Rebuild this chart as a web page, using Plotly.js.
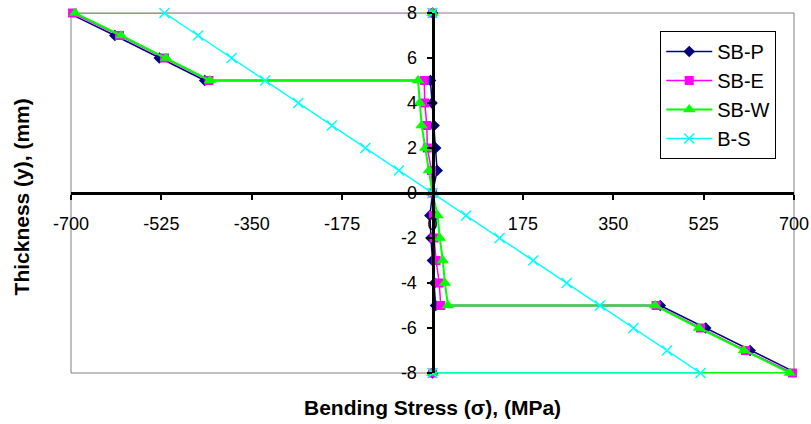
<!DOCTYPE html>
<html>
<head>
<meta charset="utf-8">
<script src="https://cdn.plot.ly/plotly-3.0.1.min.js"></script>
<style>html,body{margin:0;padding:0;background:#fff;}#chart{width:811px;height:424px;}</style>
</head>
<body>
<div id="chart"></div>
<script>
// Thickness positions (mm) for the sandwich-beam series
var ySB = [8, 8, 7, 6, 5, 5, 4, 3, 2, 1, 0, -1, -2, -3, -4, -5, -5, -6, -7, -8, -8];
// Bending stress (MPa)
var sbP = [0, -705, -615, -529, -441, -4, -1, 3, 6, 9, 0, -5, -3, 0, 4, 6, 441, 529, 615, 705, 0];
var sbE = [0, -697, -606, -519, -433, -16, -15, -11, -10, -2, 0, 2, 3, 7, 13, 16, 433, 519, 606, 697, 0];
var sbW = [0, -692, -603, -516, -431, -28, -25, -21, -14, -7, 0, 10, 14, 20, 24, 30, 431, 516, 603, 692, 0];
// Homogeneous beam
var yBS = [8, 8, 7, 6, 5, 4, 3, 2, 1, 0, -1, -2, -3, -4, -5, -6, -7, -8, -8];
var bS  = [0, -519, -454, -389, -324, -260, -195, -130, -65, 0, 65, 130, 195, 260, 324, 389, 454, 519, 0];

var xTicks = [-700, -525, -350, -175, 0, 175, 350, 525, 700];
var yTicks = [-8, -6, -4, -2, 0, 2, 4, 6, 8];
var names = ['SB-P', 'SB-E', 'SB-W', 'B-S'];

var FONT = 'Liberation Sans, Arial, sans-serif';

var traces = [
  {x: sbP, y: ySB, name: names[0], legendgroup: 'a', mode: 'lines+markers', cliponaxis: false,
   line: {color: '#000080', width: 1.5}, marker: {symbol: 'diamond', size: 9, color: '#000080'}},
  {x: sbE, y: ySB, name: names[1], legendgroup: 'b', mode: 'lines+markers', cliponaxis: false,
   line: {color: '#FF00FF', width: 1.5}, marker: {symbol: 'square', size: 9, color: '#FF00FF'}},
  {x: sbW, y: ySB, name: names[2], legendgroup: 'c', mode: 'lines+markers', cliponaxis: false,
   line: {color: '#00FF00', width: 2}, marker: {symbol: 'triangle-up', size: 11, color: '#00FF00'}},
  {x: bS, y: yBS, name: names[3], legendgroup: 'd', mode: 'lines+markers', cliponaxis: false,
   line: {color: '#00FFFF', width: 1.5}, marker: {symbol: 'x-thin', size: 10, color: '#00FFFF', line: {color: '#00FFFF', width: 1.5}}}
];

var layout = {
  width: 811, height: 424,
  margin: {l: 71, r: 17, t: 13, b: 51},
  paper_bgcolor: '#fff', plot_bgcolor: '#fff',
  font: {family: FONT, size: 18, color: '#000'},
  showlegend: true,
  legend: {x: 0.815, y: 0.95, xanchor: 'left', yanchor: 'top', bgcolor: '#fff',
           bordercolor: '#000', borderwidth: 1, font: {family: FONT, size: 20},
           traceorder: 'grouped', tracegroupgap: 0, itemwidth: 46},
  xaxis: {range: [-700, 700], tickvals: xTicks, ticktext: xTicks.map(String),
          anchor: 'free', position: 0.5, showline: true, linecolor: '#000', linewidth: 3,
          ticks: 'outside', ticklen: 5, tickwidth: 2, tickcolor: '#000',
          showgrid: false, zeroline: false, ticklabelstandoff: 8,
          tickfont: {family: FONT, size: 18}},
  yaxis: {range: [-8, 8], tickvals: yTicks, ticktext: yTicks.map(String),
          anchor: 'free', position: 0.5, showline: true, linecolor: '#000', linewidth: 3,
          ticks: 'outside', ticklen: 5, tickwidth: 2, tickcolor: '#000',
          showgrid: false, zeroline: false, ticklabelstandoff: 6,
          tickfont: {family: FONT, size: 18}},
  shapes: [{type: 'rect', xref: 'paper', yref: 'paper', x0: 0, x1: 1, y0: 0, y1: 1,
            line: {color: '#808080', width: 1}, layer: 'below'}],
  annotations: [
    {text: '<b>Bending Stress (σ), (MPa)</b>', xref: 'paper', yref: 'paper', x: 0.5, y: -0.097,
     xanchor: 'center', yanchor: 'middle', showarrow: false, font: {family: FONT, size: 21}},
    {text: '<b>Thickness (y), (mm)</b>', xref: 'paper', yref: 'paper', x: -0.068, y: 0.49,
     xanchor: 'center', yanchor: 'middle', textangle: -90, showarrow: false, font: {family: FONT, size: 21}}
  ]
};

Plotly.newPlot('chart', traces, layout, {displayModeBar: false, staticPlot: true});
</script>
</body>
</html>
